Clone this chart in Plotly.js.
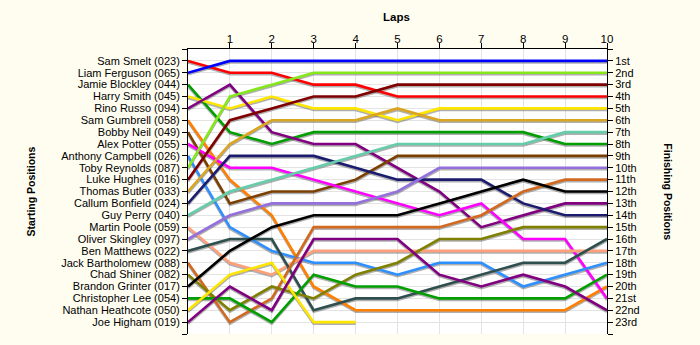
<!DOCTYPE html>
<html>
<head>
<meta charset="utf-8">
<script src="https://cdn.plot.ly/plotly-3.0.1.min.js"></script>
<style>
  html, body { margin: 0; padding: 0; background: #FFFDF0; }
  #chart { width: 700px; height: 345px; }
</style>
</head>
<body>
<div id="chart"></div>
<script>
// Laps (x axis)
const laps = [0, 1, 2, 3, 4, 5, 6, 7, 8, 9, 10];

// Drivers in starting order
const drivers = [
  "Sam Smelt (023)", "Liam Ferguson (065)", "Jamie Blockley (044)", "Harry Smith (045)",
  "Rino Russo (094)", "Sam Gumbrell (058)", "Bobby Neil (049)", "Alex Potter (055)",
  "Anthony Campbell (026)", "Toby Reynolds (087)", "Luke Hughes (016)", "Thomas Butler (033)",
  "Callum Bonfield (024)", "Guy Perry (040)", "Martin Poole (059)", "Oliver Skingley (097)",
  "Ben Matthews (022)", "Jack Bartholomew (088)", "Chad Shiner (082)", "Brandon Grinter (017)",
  "Christopher Lee (054)", "Nathan Heathcote (050)", "Joe Higham (019)"
];

// Position per lap (lap 0 = start)
const samSmelt        = [1, 2, 2, 3, 3, 4, 4, 4, 4, 4, 4];
const liamFerguson    = [2, 1, 1, 1, 1, 1, 1, 1, 1, 1, 1];
const jamieBlockley   = [3, 7, 8, 7, 7, 7, 7, 7, 7, 8, 8];
const harrySmith      = [4, 5, 4, 5, 5, 6, 5, 5, 5, 5, 5];
const rinoRusso       = [5, 3, 7, 8, 8, 10, 12, 15, 14, 13, 13];
const samGumbrell     = [6, 11, 14, 20, 22, 22, 22, 22, 22, 22, 20];
const bobbyNeil       = [7, 13, 12, 12, 11, 9, 9, 9, 9, 9, 9];
const alexPotter      = [8, 10, 10, 11, 12, 13, 14, 13, 16, 16, 21];
const anthonyCampbell = [9, 15, 17, 18, 18, 19, 18, 18, 20, 19, 18];
const tobyReynolds    = [10, 4, 3, 2, 2, 2, 2, 2, 2, 2, 2];
const lukeHughes      = [11, 6, 5, 4, 4, 3, 3, 3, 3, 3, 3];
const thomasButler    = [12, 8, 6, 6, 6, 5, 6, 6, 6, 6, 6];
const callumBonfield  = [13, 9, 9, 9, 10, 11, 11, 11, 13, 14, 14];
const guyPerry        = [14, 12, 11, 10, 9, 8, 8, 8, 8, 7, 7];
const martinPoole     = [15, 18, 19, 17, 17, 17, 17, 17, 17, 17, 17];
const oliverSkingley  = [16, 14, 13, 13, 13, 12, 10, 10, 10, 10, 10];
const benMatthews     = [17, 16, 16, 22, 21, 21, 20, 19, 18, 18, 16];
const jackBartholomew = [18, 23, 21, 15, 15, 15, 15, 14, 12, 11, 11];
const chadShiner      = [19, 22, 20, 21, 19, 18, 16, 16, 15, 15, 15];
const brandonGrinter  = [20, 17, 15, 14, 14, 14, 13, 12, 11, 12, 12];
const christopherLee  = [21, 21, 23, 19, 20, 20, 21, 21, 21, 21, 19];
const nathanHeathcote = [22, 19, 18, 23, 23];
const joeHigham       = [23, 20, 22, 16, 16, 16, 19, 20, 19, 20, 22];

const positions = [
  samSmelt, liamFerguson, jamieBlockley, harrySmith, rinoRusso, samGumbrell, bobbyNeil,
  alexPotter, anthonyCampbell, tobyReynolds, lukeHughes, thomasButler, callumBonfield,
  guyPerry, martinPoole, oliverSkingley, benMatthews, jackBartholomew, chadShiner,
  brandonGrinter, christopherLee, nathanHeathcote, joeHigham
];

const colors = [
  "#FF0000", "#0000FF", "#009E00", "#FFE600", "#800080", "#FF7F00", "#7B3F00",
  "#FF00FF", "#2E8FFF", "#84E81A", "#800000", "#DAA520", "#1C1C6E",
  "#66CDAA", "#FFA07A", "#9370DB", "#2F4F4F", "#D2691E", "#808000",
  "#000000", "#009E00", "#FFE600", "#800080"
];

// Finishing position tick labels
const finishLabels = [
  "1st", "2nd", "3rd", "4th", "5th", "6th", "7th", "8th", "9th", "10th", "11th", "12th",
  "13th", "14th", "15th", "16th", "17th", "18th", "19th", "20th", "21st", "22nd", "23rd"
];
const lapTicks = [1, 2, 3, 4, 5, 6, 7, 8, 9, 10];

const FONT = "Liberation Sans, Arial, sans-serif";
const TICKSIZE = 11;
const traces = [];
const shadowShift = 0.13;

positions.forEach((p, i) => {
  traces.push({
    x: laps.slice(0, p.length), y: p.map(v => v + shadowShift),
    type: "scatter", mode: "lines", hoverinfo: "skip", showlegend: false,
    line: { color: "rgba(110,110,110,0.55)", width: 2.6 }
  });
});
positions.forEach((p, i) => {
  traces.push({
    x: laps.slice(0, p.length), y: p, name: drivers[i],
    type: "scatter", mode: "lines", showlegend: false,
    line: { color: colors[i], width: 2.6 }
  });
});
// anchor trace for the right-hand axis
traces.push({
  x: [laps[laps.length - 1]], y: [1], yaxis: "y2", type: "scatter", mode: "markers",
  marker: { opacity: 0 }, hoverinfo: "skip", showlegend: false
});

const posTicks = [0].concat(drivers.map((d, i) => i + 1), [24]);

const layout = {
  width: 700, height: 345,
  margin: { l: 188, r: 93, t: 49, b: 11 },
  paper_bgcolor: "#FFFDF0",
  plot_bgcolor: "#FFFFFF",
  font: { family: FONT, size: TICKSIZE, color: "#000" },
  xaxis: {
    range: [0, 10], side: "top", tickvals: lapTicks, ticktext: lapTicks.map(String),
    ticks: "outside", ticklen: 5, tickcolor: "#000", ticklabelstandoff: -5,
    showline: true, linecolor: "#000", linewidth: 1,
    showgrid: true, gridcolor: "#E3E3E3", gridwidth: 1, zeroline: false,
    tickfont: { family: FONT, size: 11.5, color: "#000" }
  },
  yaxis: {
    range: [24, 0], tickvals: posTicks, ticktext: [""].concat(drivers, [""]),
    ticks: "outside", ticklen: 5, tickcolor: "#000",
    showline: true, linecolor: "#000", linewidth: 1,
    showgrid: true, gridcolor: "#E3E3E3", gridwidth: 1, zeroline: false,
    tickfont: { family: FONT, size: TICKSIZE, color: "#000" }
  },
  yaxis2: {
    overlaying: "y", side: "right", range: [24, 0],
    tickvals: posTicks, ticktext: [""].concat(finishLabels, [""]),
    ticks: "outside", ticklen: 5, tickcolor: "#000",
    showline: true, linecolor: "#000", linewidth: 1,
    showgrid: false, zeroline: false,
    tickfont: { family: FONT, size: TICKSIZE, color: "#000" }
  },
  annotations: [
    { text: "<b>Laps</b>", xref: "paper", yref: "paper", x: 0.497, y: 1.112,
      xanchor: "center", yanchor: "middle", showarrow: false,
      font: { family: FONT, size: 11.5, color: "#000" } },
    { text: "<b>Starting Positions</b>", xref: "paper", yref: "paper", x: -0.377, y: 0.5,
      xanchor: "center", yanchor: "middle", showarrow: false, textangle: -90,
      font: { family: FONT, size: 10.5, color: "#000" } },
    { text: "<b>Finishing Positions</b>", xref: "paper", yref: "paper", x: 1.146, y: 0.5,
      xanchor: "center", yanchor: "middle", showarrow: false, textangle: 90,
      font: { family: FONT, size: 10.5, color: "#000" } }
  ]
};

Plotly.newPlot("chart", traces, layout, { displayModeBar: false, staticPlot: true });
</script>
</body>
</html>
